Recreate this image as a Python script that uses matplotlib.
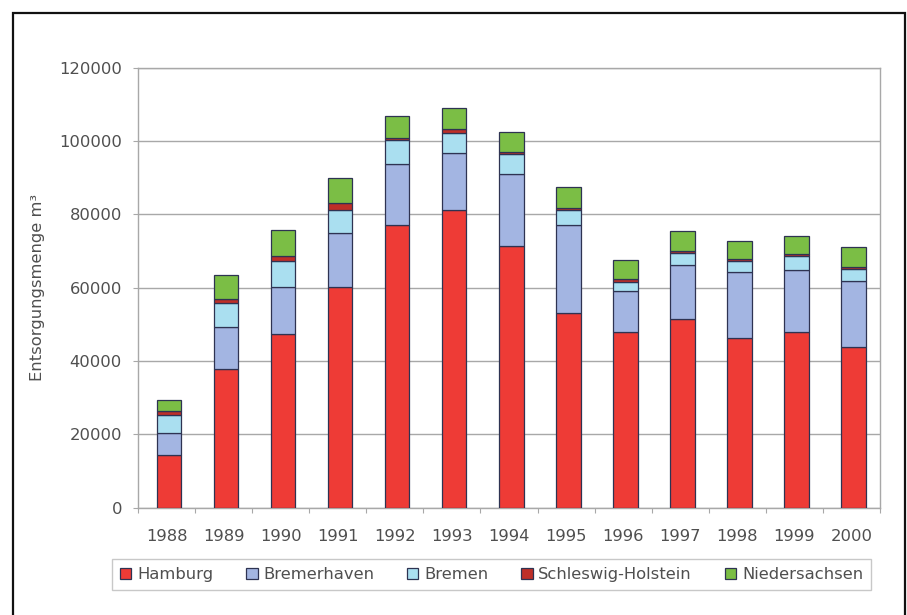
import matplotlib
matplotlib.use("Agg")
import matplotlib.pyplot as plt
from matplotlib.patches import Rectangle
import numpy as np

plt.rcParams['font.family'] = ['DejaVu Sans']

years = ['1988', '1989', '1990', '1991', '1992', '1993', '1994',
         '1995', '1996', '1997', '1998', '1999', '2000']
hamburg = [14500, 37800, 47500, 60200, 77200, 81300, 71400,
           53100, 47800, 51600, 46200, 47800, 43700]
bremerhaven = [6000, 11600, 12700, 14800, 16500, 15400, 19600,
               24000, 11300, 14600, 18000, 17000, 18200]
bremen = [4800, 6300, 7100, 6300, 6500, 5600, 5500,
          4100, 2500, 3200, 3100, 3900, 3100]
schleswig_holstein = [1100, 1100, 1300, 1700, 500, 1100, 500,
                      600, 900, 600, 500, 600, 700]
niedersachsen = [2900, 6600, 7100, 6800, 6200, 5700, 5500,
                 5600, 5000, 5500, 4900, 4800, 5300]

series = [
    ('Hamburg', hamburg, '#EE3B36'),
    ('Bremerhaven', bremerhaven, '#A3B5E2'),
    ('Bremen', bremen, '#AADFF0'),
    ('Schleswig-Holstein', schleswig_holstein, '#BE2F28'),
    ('Niedersachsen', niedersachsen, '#7BBE45'),
]
yticks = [0, 20000, 40000, 60000, 80000, 100000, 120000]

text_color = '#4F4F4F'
grid_color = '#A8A8A8'
edge_color = '#2E3352'

fig = plt.figure(figsize=(9.07, 6.15), dpi=100)
fig.patch.set_facecolor('white')
ax = fig.add_axes([138 / 907, 1 - 507.7 / 615, (880 - 138) / 907, 440 / 615])

x = np.arange(len(years))
bottom = np.zeros(len(years))
for name, vals, color in series:
    vals = np.array(vals, dtype=float)
    ax.bar(x + 0.04, vals, width=0.43, bottom=bottom, color=color,
           edgecolor=edge_color, linewidth=0.9, label=name, zorder=3)
    bottom += vals

ax.set_xlim(-0.5, len(years) - 0.5)
ax.set_ylim(0, 120000)
ax.set_yticks(yticks)
ax.set_yticklabels([str(v) for v in yticks])
ax.yaxis.grid(True, color=grid_color, linewidth=1.0, zorder=0)
ax.set_axisbelow(True)

# boundary ticks between categories, labels at category centres
ax.set_xticks(np.arange(-0.5, len(years), 1.0))
ax.set_xticklabels([])
ax.set_xticks(x, minor=True)
ax.set_xticklabels(years, minor=True)
ax.tick_params(axis='x', which='major', direction='out', length=3.6,
               color=grid_color, width=0.8)
ax.tick_params(axis='x', which='minor', length=0, pad=15,
               labelsize=11.8, labelcolor=text_color)
ax.tick_params(axis='y', direction='out', length=3.6, width=0.8,
               color=grid_color, pad=8, labelsize=11.8, labelcolor=text_color)

for side in ['left', 'right', 'bottom', 'top']:
    ax.spines[side].set_color(grid_color)
    ax.spines[side].set_linewidth(1.0)

fig.text(38 / 907, 1 - 287.7 / 615, 'Entsorgungsmenge m³', rotation=90,
         ha='center', va='center', fontsize=11.8, color=text_color)

leg = ax.legend(loc='center', bbox_to_anchor=(491.5 / 907, 1 - 574.5 / 615),
                bbox_transform=fig.transFigure, ncol=5, frameon=True,
                fancybox=False, edgecolor='#BBBBBB', fontsize=11.8,
                handlelength=0.7, handleheight=0.7, handletextpad=0.35,
                columnspacing=2.0, borderpad=0.5, borderaxespad=0,
                labelcolor=text_color)
leg.get_frame().set_linewidth(1.0)

fig.patches.append(Rectangle((13 / 907, -0.02), (905 - 13) / 907, 1.02 - 13 / 615,
                             transform=fig.transFigure, fill=False,
                             edgecolor='#111111', linewidth=1.6))

fig.savefig('out.png', dpi=100, facecolor='white')
